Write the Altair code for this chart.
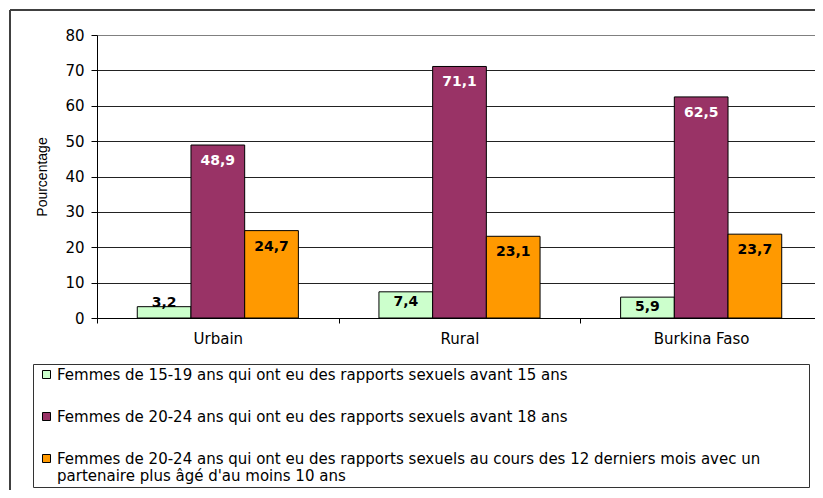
import json
import altair as alt
import pandas as pd

# ---- data ----
regions = ["Urbain", "Rural", "Burkina Faso"]
series = [
    "Femmes de 15-19 ans qui ont eu des rapports sexuels avant 15 ans",
    "Femmes de 20-24 ans qui ont eu des rapports sexuels avant 18 ans",
    "Femmes de 20-24 ans qui ont eu des rapports sexuels au cours des 12 derniers mois avec un partenaire plus âgé d'au moins 10 ans",
]
series3_lines = [
    "Femmes de 20-24 ans qui ont eu des rapports sexuels au cours des 12 derniers mois avec un",
    "partenaire plus âgé d'au moins 10 ans",
]
values_s1 = [3.2, 7.4, 5.9]
values_s2 = [48.9, 71.1, 62.5]
values_s3 = [24.7, 23.1, 23.7]
colors = ["#CCFFCC", "#993366", "#FF9900"]
y_ticks = [0, 10, 20, 30, 40, 50, 60, 70, 80]

rows = []
for i, r in enumerate(regions):
    for s, vals in zip(series, [values_s1, values_s2, values_s3]):
        v = vals[i]
        rows.append({"region": r, "series": s, "value": v,
                     "label": f"{v:.1f}".replace(".", ",")})
df = pd.DataFrame(rows)

label_expr = "datum.label == {} ? {} : datum.label".format(
    json.dumps(series[2], ensure_ascii=False), json.dumps(series3_lines, ensure_ascii=False)
)

x_enc = alt.X(
    "region:N", sort=regions,
    scale=alt.Scale(paddingInner=0, paddingOuter=0, range=[0, 725]),
    axis=alt.Axis(title=None, labelAngle=0, tickBand="extent", grid=False,
                  labelFont="DejaVu Sans", labelFontSize=15, labelColor="black",
                  labelPadding=8, tickSize=5, tickColor="black", domainColor="black"),
)
xo_enc = alt.XOffset("series:N", sort=series,
                     scale=alt.Scale(paddingInner=0, paddingOuter=0.75))
y_enc = alt.Y(
    "value:Q",
    scale=alt.Scale(domain=[0, 80], nice=False),
    axis=alt.Axis(values=y_ticks, tickCount=9, title="Pourcentage",
                  titleFont="Liberation Sans", titleFontSize=14, titleFontWeight="normal",
                  titleColor="black", titleX=-55, titleBaseline="middle",
                  labelFont="DejaVu Sans", labelFontSize=15, labelColor="black",
                  labelPadding=7, tickSize=6, tickColor="black", domainColor="black",
                  grid=True,
                  gridColor={"condition": {"test": "datum.value === 80", "value": "#808080"},
                             "value": "#222222"}),
)

base = alt.Chart(df).encode(x=x_enc, xOffset=xo_enc, y=y_enc)

bars = base.mark_bar(stroke="black", strokeWidth=1).encode(
    color=alt.Color(
        "series:N", sort=series,
        scale=alt.Scale(domain=series, range=colors),
        legend=alt.Legend(
            title="\u00a0", titleOrient="right", titlePadding=46,
            orient="none", legendX=-64, legendY=329, direction="vertical",
            fillColor="white", strokeColor="#333333", padding=3, cornerRadius=0,
            symbolType="square", symbolSize=64, symbolStrokeColor="black",
            symbolStrokeWidth=1, symbolOffset=3, labelOffset=3,
            labelFont="DejaVu Sans", labelFontSize=15, labelColor="black",
            labelLimit=1000, rowPadding=26, labelExpr=label_expr,
        ),
    ),
)

text_color = alt.condition(alt.datum.series == series[1], alt.value("white"), alt.value("black"))

def labels(flt, dy):
    return base.transform_filter(flt).mark_text(
        font="DejaVu Sans", fontWeight="bold", fontSize=14, baseline="middle", dy=dy
    ).encode(text="label:N", color=text_color)

lab_big = labels("datum.value >= 10", 16)
lab_mid = labels("datum.value >= 5 && datum.value < 10", 10)
lab_small = labels("datum.value < 5", -4)

one = pd.DataFrame({"k": [0]})
frame_top = alt.Chart(one).mark_rule(color="#404040", strokeWidth=2).encode(
    x=alt.value(-87), x2=alt.value(740), y=alt.value(-25))
frame_left = alt.Chart(one).mark_rule(color="#404040", strokeWidth=2).encode(
    x=alt.value(-87), y=alt.value(-25), y2=alt.value(480))

chart = alt.layer(bars, lab_big, lab_mid, lab_small, frame_top, frame_left).properties(
    width=718, height=283,
    autosize=alt.AutoSizeParams(type="none"),
    padding={"left": 89, "top": 27, "right": 0, "bottom": 172},
    background="white",
).configure_view(stroke=None)

chart.save("out.html", embed_options={"renderer": "svg", "actions": False})
